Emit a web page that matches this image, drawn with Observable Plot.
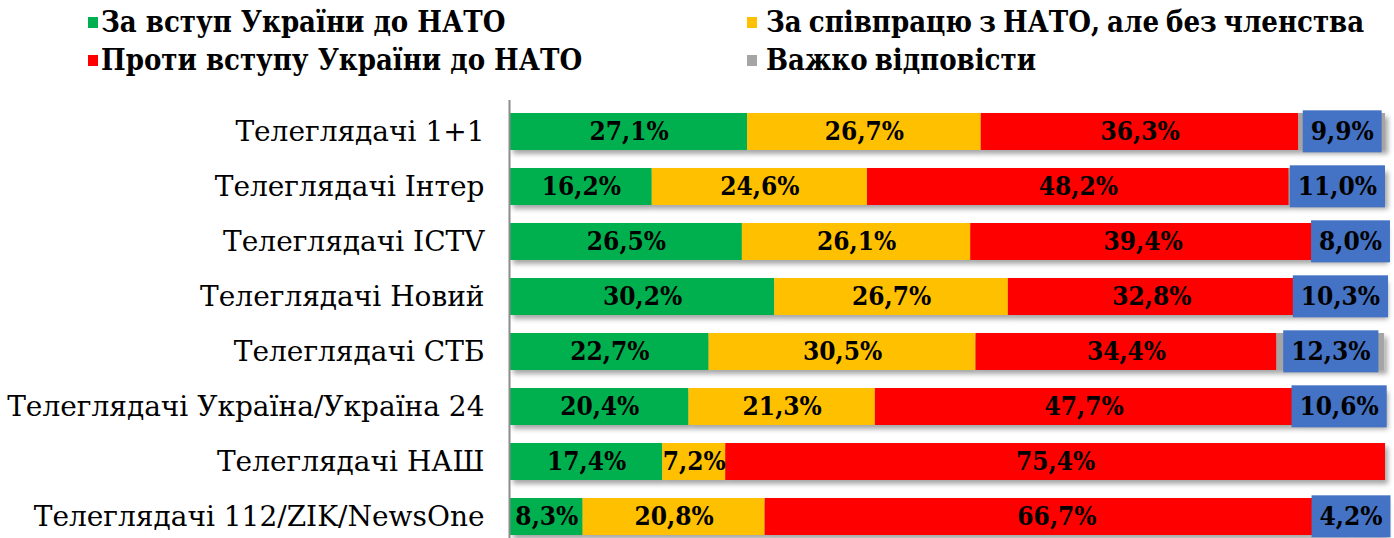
<!DOCTYPE html>
<html><head><meta charset="utf-8">
<script src="https://cdn.jsdelivr.net/npm/d3@7"></script>
<script src="https://cdn.jsdelivr.net/npm/@observablehq/plot@0.6"></script>
<style>
body{margin:0;background:#fff;font-family:"DejaVu Serif",serif;overflow:hidden;}
#legend{position:relative;height:90px;width:1394px;}
.item{position:absolute;font-family:"DejaVu Serif Condensed","DejaVu Serif",serif;font-stretch:condensed;font-weight:bold;font-size:29px;white-space:nowrap;line-height:1;color:#000;}
.item.right{word-spacing:-2px;}
.sw{position:absolute;width:10px;height:11px;}
#chart svg{display:block;}
</style></head><body>
<div id="legend"></div><div id="chart"></div>
<script>
const channels = ["Телеглядачі 1+1","Телеглядачі Інтер","Телеглядачі ІCTV","Телеглядачі Новий","Телеглядачі СТБ","Телеглядачі Україна/Україна 24","Телеглядачі НАШ","Телеглядачі 112/ZIK/NewsOne"];
const seriesNames = ["За вступ України до НАТО","За співпрацю з НАТО, але без членства","Проти вступу України до НАТО","Важко відповісти"];
const seriesColors = ["#00B050","#FFC000","#FF0000","#A5A5A5"];
const forJoining   = [27.1,16.2,26.5,30.2,22.7,20.4,17.4,8.3];
const cooperation  = [26.7,24.6,26.1,26.7,30.5,21.3,7.2,20.8];
const against      = [36.3,48.2,39.4,32.8,34.4,47.7,75.4,66.7];
const hardToSay    = [9.9,11.0,8.0,10.3,12.3,10.6,0,4.2];
const seriesValues = [forJoining, cooperation, against, hardToSay];

const data = [];
channels.forEach((c,i)=>seriesValues.forEach((vals,s)=>data.push({channel:c, series:seriesNames[s], value:vals[i]})));
const fmt = v => v.toFixed(1).replace(".", ",") + "%";
const FONT = "'DejaVu Serif',serif";
const LABEL_FONT = "'DejaVu Serif Condensed','DejaVu Serif',serif";

// legend
const legend = document.getElementById("legend");
const legendPos = [[88,101,8],[747,766,8],[88,101,46],[747,766,46]];
[0,1,2,3].forEach((s)=>{
  const [sx,tx,ty] = legendPos[s];
  const sw = document.createElement("div"); sw.className="sw";
  sw.style.left=sx+"px"; sw.style.top=(ty+9)+"px"; sw.style.background=seriesColors[s];
  const t = document.createElement("div"); t.className="item" + (s % 2 ? " right" : "");
  t.style.left=tx+"px"; t.style.top=ty+"px"; t.textContent=seriesNames[s];
  legend.appendChild(sw); legend.appendChild(t);
});

const stackOpts = {x:"value", y:"channel", z:"series", order: seriesNames};
const labelStyle = {fontSize:26, fontWeight:"bold", fill:"#000", fontFamily:LABEL_FONT, fontStretch:"condensed"};

const chart = Plot.plot({
  width:1394, height:468,
  marginLeft:510, marginRight:9, marginTop:3, marginBottom:2,
  style:{fontFamily:FONT, background:"#fff"},
  x:{domain:[0,100], axis:null},
  y:{domain:channels, padding:0.32, label:null, tickSize:0, tickPadding:26},
  color:{domain:seriesNames, range:seriesColors},
  marks:[
    Plot.barX(data, Plot.stackX({...stackOpts, fill:"series"})),
    Plot.ruleX([0], {stroke:"#8c8c8c", strokeWidth:2, dx:-1, insetTop:7}),
    Plot.text(data, Plot.stackX({...stackOpts, ...labelStyle, text:d=> (d.value>0 && d.series!==seriesNames[3]) ? fmt(d.value) : ""})),
    Plot.text(data, Plot.stackX({...stackOpts, ...labelStyle, text:d=> (d.value>0 && d.series===seriesNames[3]) ? fmt(d.value) : ""}))
  ]
});
document.getElementById("chart").appendChild(chart);

const svg = d3.select(chart);
svg.selectAll("g[aria-label='y-axis tick label']").attr("font-size", 28);
svg.selectAll("g[aria-label='y-axis tick label'] text").attr("font-size", 28).attr("fill","#000");
svg.selectAll("g[aria-label='text']").style("font-stretch","condensed");
const defs = svg.insert("defs", ":first-child");
const f = defs.append("filter").attr("id","shadow").attr("x","-10%").attr("y","-30%").attr("width","130%").attr("height","190%");
f.append("feDropShadow").attr("dx",3).attr("dy",4).attr("stdDeviation",2.5).attr("flood-color","#000").attr("flood-opacity",0.35);
svg.selectAll("g[aria-label='bar']").attr("filter","url(#shadow)");

// blue boxes behind gray-segment labels (kept inside the picture)
const textGroups = svg.selectAll("g[aria-label='text']").nodes();
const gl = d3.select(textGroups[textGroups.length-1]);
gl.selectAll("text").each(function(){
  if (!this.textContent) return;
  const b = this.getBBox();
  const tr = this.getAttribute("transform") || "";
  const m = /translate\(([-\d.]+),\s*([-\d.]+)\)/.exec(tr);
  const tx = m ? +m[1] : 0;
  const right = tx + b.x + b.width + 8;
  const shift = Math.min(0, 1390 - right);
  const r = d3.select(this.parentNode).insert("rect", () => this)
    .attr("x", b.x-8+shift).attr("width", b.width+16)
    .attr("y", b.y + b.height/2 - 21).attr("height", 42)
    .attr("fill", "#4472C4");
  if (tr) r.attr("transform", tr);
  if (shift) d3.select(this).attr("dx", shift);
});
</script></body></html>
